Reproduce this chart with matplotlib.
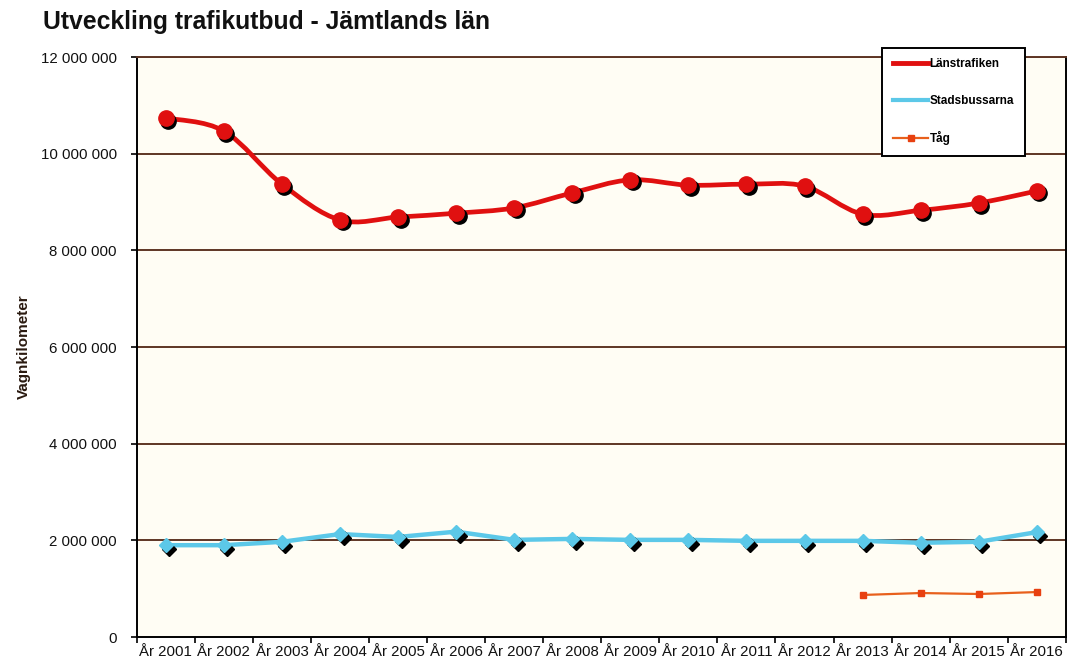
import numpy as np
import matplotlib
matplotlib.use("Agg")
import matplotlib.pyplot as plt
from matplotlib.path import Path
from matplotlib.patches import PathPatch
from matplotlib.lines import Line2D
import matplotlib.transforms as mtrans

years = ["År 2001", "År 2002", "År 2003", "År 2004", "År 2005", "År 2006", "År 2007", "År 2008",
         "År 2009", "År 2010", "År 2011", "År 2012", "År 2013", "År 2014", "År 2015", "År 2016"]
lanstrafiken = [10.74e6, 10.47e6, 9.37e6, 8.63e6, 8.69e6, 8.77e6, 8.88e6, 9.19e6,
                9.46e6, 9.35e6, 9.37e6, 9.33e6, 8.75e6, 8.83e6, 8.98e6, 9.23e6]
stadsbussarna = [1.90e6, 1.90e6, 1.97e6, 2.13e6, 2.07e6, 2.18e6, 2.01e6, 2.03e6,
                 2.01e6, 2.01e6, 1.99e6, 1.99e6, 1.99e6, 1.95e6, 1.97e6, 2.17e6]
tag_years = ["År 2013", "År 2014", "År 2015", "År 2016"]
tag = [0.87e6, 0.91e6, 0.89e6, 0.93e6]
yticks = [0, 2e6, 4e6, 6e6, 8e6, 10e6, 12e6]
ytick_labels = ["0", "2 000 000", "4 000 000", "6 000 000", "8 000 000", "10 000 000", "12 000 000"]

plt.rcParams['font.family'] = ['Liberation Sans', 'DejaVu Sans']

fig = plt.figure(figsize=(10.69, 6.65), dpi=100)
fig.patch.set_facecolor("white")
ax = fig.add_axes([0.128, 0.0421, 0.869, 0.872])
ax.set_facecolor("#fffdf4")

x = np.arange(len(years))
tx = np.array([years.index(t) for t in tag_years])

ax.set_xlim(-0.5, len(years) - 0.5)
ax.set_ylim(0, 12e6)

# gridlines
for v in yticks[1:]:
    ax.axhline(v, color="#5e3524", lw=1.4, zorder=1)


def smooth_path(xs, ys, t=1/6):
    xs = np.asarray(xs, float); ys = np.asarray(ys, float)
    pts = np.column_stack([xs, ys])
    verts = [pts[0]]
    codes = [Path.MOVETO]
    n = len(pts)
    for i in range(n - 1):
        p0 = pts[i - 1] if i > 0 else pts[i]
        p1 = pts[i]
        p2 = pts[i + 1]
        p3 = pts[i + 2] if i + 2 < n else pts[i + 1]
        c1 = p1 + (p2 - p0) * t
        c2 = p2 - (p3 - p1) * t
        verts += [c1, c2, p2]
        codes += [Path.CURVE4] * 3
    return Path(verts, codes)


red = "#e01010"
cyan = "#5cc8e8"
orange = "#e8601c"

# Länstrafiken smoothed line
ax.add_patch(PathPatch(smooth_path(x, lanstrafiken), facecolor="none", edgecolor=red, lw=3.4, zorder=3))
shadow = mtrans.offset_copy(ax.transData, fig=fig, x=2.5, y=-2.5, units="dots")
shadow2 = mtrans.offset_copy(ax.transData, fig=fig, x=3.5, y=-4, units="dots")
ax.plot(x, lanstrafiken, ls="none", marker="o", ms=11, color="black", transform=shadow, zorder=4)
ax.plot(x, lanstrafiken, ls="none", marker="o", ms=11, color=red, zorder=5)

# Stadsbussarna
ax.plot(x, stadsbussarna, color=cyan, lw=3.2, zorder=3)
ax.plot(x, stadsbussarna, ls="none", marker="D", ms=7.5, color="black", transform=shadow2, zorder=4)
ax.plot(x, stadsbussarna, ls="none", marker="D", ms=7.5, color=cyan, zorder=5)

# Tåg
ax.plot(tx, tag, color=orange, lw=1.6, marker="s", ms=5, mfc="#e84010", mec="#e84010", zorder=5)

# axes styling
for s in ["top", "right", "left", "bottom"]:
    ax.spines[s].set_color("black")
    ax.spines[s].set_linewidth(1.4)
ax.spines["top"].set_color("#5e3524")

ax.set_xticks(np.arange(-0.5, len(years) + 0.5, 1.0))
ax.set_xticklabels([])
ax.set_xticks(x, minor=True)
ax.set_xticklabels(years, minor=True, fontsize=10.8, color="#111111")
ax.tick_params(axis="x", which="major", length=4.5, width=1.2, direction="out")
ax.tick_params(axis="x", which="minor", length=0, pad=6)

ax.set_yticks(yticks)
ax.set_yticklabels(ytick_labels, fontsize=10.8, color="#111111")
ax.tick_params(axis="y", length=4.5, width=1.2, direction="out", pad=10)

ax.set_ylabel("Vagnkilometer", fontsize=11, fontweight="bold", color="#2a1a10")
ax.yaxis.set_label_coords(-0.114, 0.5)

fig.text(0.04, 0.967, "Utveckling trafikutbud - Jämtlands län", fontsize=17.8, fontweight="bold",
         color="#111111", va="center", ha="left")

handles = [
    Line2D([], [], color=red, lw=3.5),
    Line2D([], [], color=cyan, lw=3.0),
    Line2D([], [], color=orange, lw=1.6, marker="s", ms=5, mfc="#e84010", mec="#e84010"),
]
leg = ax.legend(handles, ["Länstrafiken", "Stadsbussarna", "Tåg"], loc="upper left",
                bbox_to_anchor=(0.8025, 1.016), frameon=True, fancybox=False,
                edgecolor="black", facecolor="white", framealpha=1, fontsize=8.5,
                handlelength=3.0, handletextpad=0.1, labelspacing=2.05,
                borderpad=0.9, borderaxespad=0)
leg.get_frame().set_linewidth(1.4)
for t in leg.get_texts():
    t.set_fontweight("bold")
leg.set_zorder(10)

fig.savefig("out.png", dpi=100)
